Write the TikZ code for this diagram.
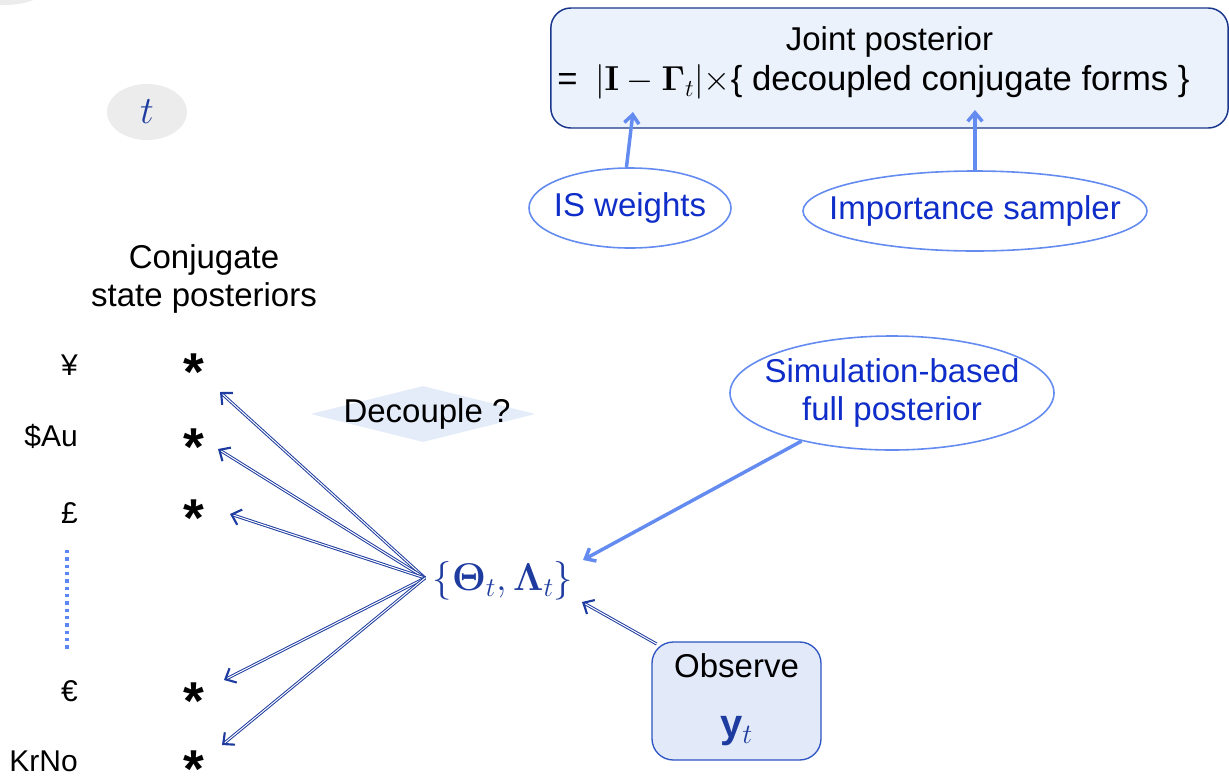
\RequirePackage{fix-cm}
\documentclass[tikz,border=0pt]{standalone}
\usepackage[no-math]{fontspec}
\setmainfont{Liberation Sans}
\usetikzlibrary{shapes.geometric,arrows.meta}
\definecolor{lblue}{RGB}{100,140,240}
\definecolor{dotblue}{RGB}{90,135,245}
\definecolor{tblue}{RGB}{15,45,200}
\definecolor{dblue}{RGB}{30,60,160}
\definecolor{boxfill}{RGB}{236,242,252}
\definecolor{boxline}{RGB}{25,55,140}
\definecolor{obsfill}{RGB}{226,233,249}
\definecolor{obsline}{RGB}{45,85,195}
\definecolor{diafill}{RGB}{228,236,250}
\definecolor{greyfill}{RGB}{236,236,236}
\tikzset{
  mainfont/.style={font=\fontsize{24.75}{30}\selectfont},
  greyell/.style={ellipse, fill=greyfill, inner sep=0pt},
  ell/.style={ellipse, draw=lblue, line width=1.2pt, inner sep=0pt},
  ellabel/.style={text=tblue, align=center, font=\fontsize{24.75}{29}\selectfont},
  jointbox/.style={rectangle, rounded corners=15pt, draw=boxline, line width=1.1pt, fill=boxfill, inner sep=0pt},
  obsbox/.style={rectangle, rounded corners=16pt, draw=obsline, line width=1pt, fill=obsfill, inner sep=0pt},
  larrow/.style={draw=lblue, line width=2.6pt, -{Straight Barb[length=6.5pt,width=11pt]}},
  darrow/.style={draw=dblue, double=white, double distance=0.75pt, line width=0.75pt, -{Straight Barb[length=6.5pt,width=12pt,line width=1.6pt]}},
  starnode/.style={anchor=center, inner sep=0pt, font=\bfseries\fontsize{40}{40}\selectfont},
  cur/.style={anchor=base east, inner sep=0pt, font=\fontsize{22.5}{26}\selectfont},
  dotline/.style={draw=dotblue, line width=2.5pt, dash pattern=on 2.5pt off 3pt},
}
\newcommand{\starglyph}{\raisebox{-0.47em}[0.12em][0.12em]{*}}
\begin{document}
\begin{tikzpicture}[x=0.75pt,y=-0.75pt, every node/.style={mainfont}]
\useasboundingbox (0,0) rectangle (1229,776);
% grey ellipses
\node[greyell, minimum width=75pt, minimum height=42pt] (corner) at (5,-23) {};
\node[greyell, minimum width=60pt, minimum height=42pt] (tnode) at (147,112) {\color{dblue}\fontsize{29}{30}\selectfont$t$};
% joint posterior box
\node[jointbox, minimum width=508pt, minimum height=90pt,
  label={[align=center, yshift=3.5pt, font=\fontsize{24.75}{30}\selectfont]center:Joint posterior\\[0pt]{\fontsize{26}{30}\selectfont=\hspace{13pt}$\bigl|\mathbf{I}-\mathbf{\Gamma}_t\bigr|$$\times$\{ decoupled conjugate forms \}\hspace*{24pt}}}] (joint) at (889.5,68) {};
% ellipses
\node[ell, minimum width=151.5pt, minimum height=60pt, label={[ellabel]center:IS weights}] (isw) at (630,208) {};
\node[ell, minimum width=258pt, minimum height=60pt, label={[ellabel]center:Importance sampler}] (imp) at (975,211) {};
\node[ell, minimum width=243pt, minimum height=85.5pt, label={[ellabel]center:Simulation-based\\full posterior}] (sim) at (892,393) {};
% arrows into joint box
\coordinate (iswend) at (633,112);
\coordinate (impend) at (975,110);
\draw[larrow] (isw.95) -- (iswend);
\draw[larrow] (imp.north) -- (impend);
% conjugate state posteriors
\node[align=center, font=\fontsize{24.75}{28.5}\selectfont] (conj) at (204,279) {Conjugate\\state posteriors};
% currency labels
\node[cur] (yen) at (78,375) {¥};
\node[cur] (aud) at (78,446) {\$Au};
\node[cur] (gbp) at (78,523) {£};
\node[cur] (eur) at (78,701) {€};
\node[cur] (nok) at (78,771) {KrNo};
% asterisks
\node[starnode] (s1) at (194,365) {\starglyph};
\node[starnode] (s2) at (194,440) {\starglyph};
\node[starnode] (s3) at (194,511) {\starglyph};
\node[starnode] (s4) at (194,694) {\starglyph};
\node[starnode] (s5) at (194,762) {\starglyph};
% dotted line
\coordinate (d1) at (67,550);
\coordinate (d2) at (67,650);
\draw[dotline] (d1) -- (d2);
% decouple diamond
\node[diamond, fill=diafill, minimum width=168.75pt, minimum height=42pt, inner sep=0pt,
  label={[font=\fontsize{24.75}{30}\selectfont, xshift=3pt]center:Decouple ?}] (dec) at (423,414) {};
% theta lambda
\node[text=dblue, font=\fontsize{29}{30}\selectfont, inner sep=1pt] (theta) at (503,581) {$\{\mathbf{\Theta}_t,\mathbf{\Lambda}_t\}$};
\coordinate (fan) at (425,578);
\coordinate (f1) at (220,392);
\coordinate (f2) at (218,449);
\coordinate (f3) at (230,514);
\coordinate (f4) at (224,680);
\coordinate (f5) at (222,745);
\foreach \e in {f1,f2,f3,f4,f5} \draw[darrow] (fan) -- (\e);
% simulation arrow
\coordinate (simend) at (583,560);
\draw[larrow] (sim.208) -- (simend);
% observe box
\node[obsbox, minimum width=126.75pt, minimum height=88.5pt,
  label={[align=center, yshift=1pt, font=\fontsize{24.75}{30}\selectfont]center:Observe\\[15pt]{\color{dblue}\fontsize{30}{30}\selectfont\textbf{y}$_t$}}] (obs) at (736.5,701) {};
\coordinate (obsend) at (582,602);
\draw[darrow] ([xshift=4pt,yshift=-2pt]obs.north west) -- (obsend);
\end{tikzpicture}
\end{document}
